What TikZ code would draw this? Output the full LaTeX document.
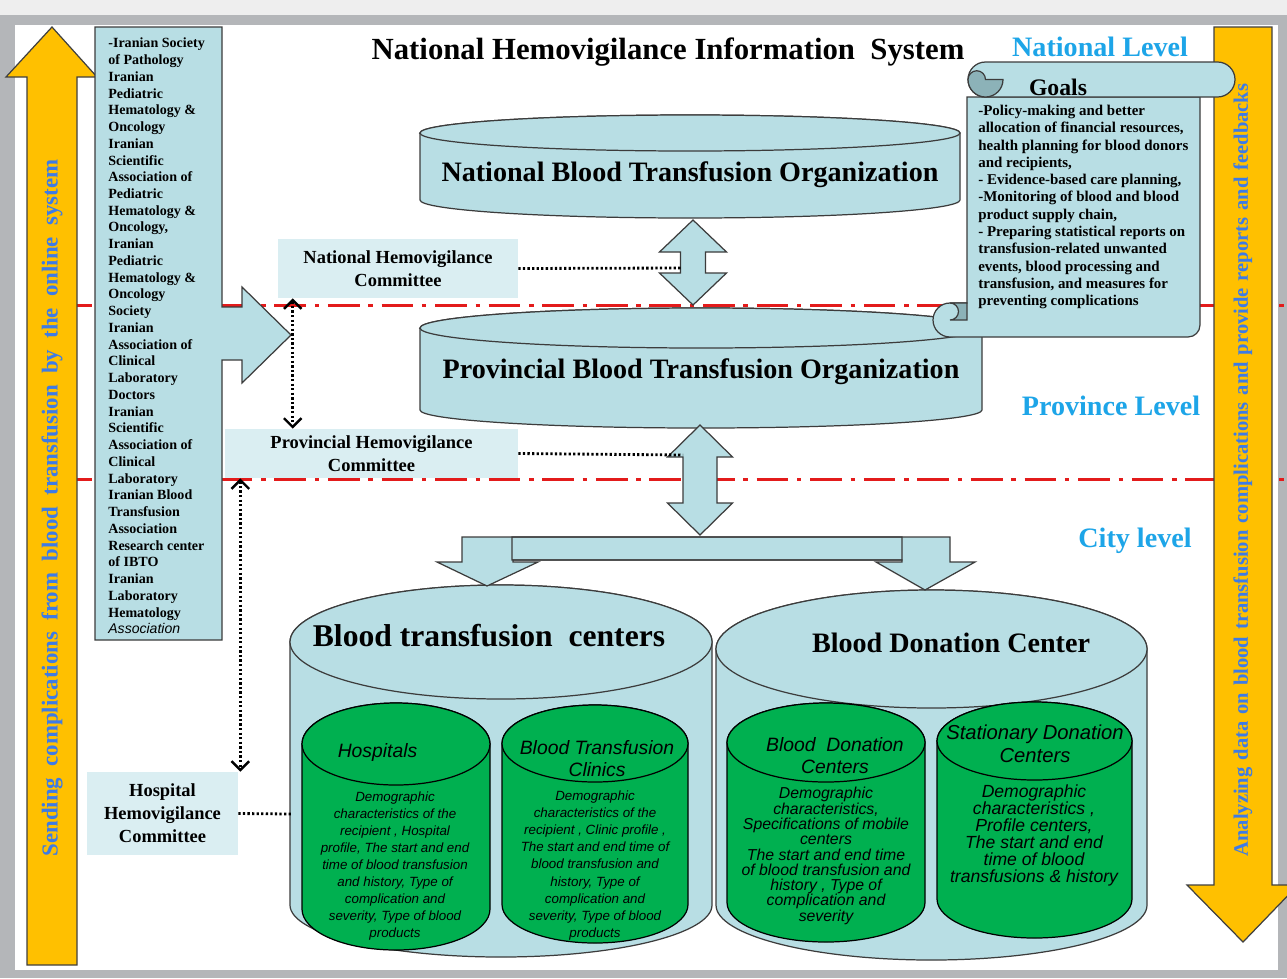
\documentclass[tikz,border=0pt]{standalone}
\usepackage{fontspec}
\setmainfont{Liberation Serif}
\newfontfamily\arialfont{Liberation Sans}
\usetikzlibrary{arrows.meta}
\definecolor{lblue}{HTML}{B8DEE4}
\definecolor{boxc}{HTML}{DAEEF2}
\definecolor{orng}{HTML}{FFC000}
\definecolor{grn}{HTML}{00B050}
\definecolor{lvl}{HTML}{1DA5E8}
\definecolor{tblue}{HTML}{3D7BE6}
\definecolor{redl}{HTML}{E31B1B}
\definecolor{curlc}{HTML}{8CB2B8}
\definecolor{edgec}{HTML}{3C3C3C}
\definecolor{framec}{HTML}{B4B6B9}
\definecolor{frametop}{HTML}{EEEEEE}
\newcommand\fsz[2]{\fontsize{#1}{#2}\selectfont}
% cylinder: #1 style, #2 xl, #3 xr, #4 top y, #5 top ry, #6 bottom y, #7 bottom ry
\newcommand\mycyl[7]{%
 \pgfmathsetmacro\cylrx{(#3-#2)/2*0.02}%
 \pgfmathsetmacro\cylcx{(#2+#3)/2}%
 \pgfmathsetmacro\cylta{#5*0.02}%
 \pgfmathsetmacro\cylba{#7*0.02}%
 \path[#1] (#2,#4) -- (#2,#6) arc[start angle=180,end angle=360,x radius=\cylrx cm,y radius=\cylba cm] -- (#3,#4) arc[start angle=0,end angle=180,x radius=\cylrx cm,y radius=\cylta cm] -- cycle;
 \path[#1] (\cylcx,#4) ellipse[x radius=\cylrx cm,y radius=\cylta cm];
}
\begin{document}
\begin{tikzpicture}[x=0.02cm,y=-0.02cm,
  shp/.style={draw=edgec,line width=0.7pt,fill=lblue},
  gshp/.style={draw=black,line width=0.7pt,fill=grn},
  oarrow/.style={draw=black!75,line width=0.7pt,fill=orng},
  curlshp/.style={draw=edgec,line width=0.7pt,fill=curlc},
  lvltxt/.style={text=lvl,font=\bfseries\fsz{16}{18}},
  combox/.style={fill=boxc,inner sep=0pt,align=center,font=\bfseries\fsz{10.5}{13}},
  cyltitle/.style={font=\bfseries\fsz{16}{18}},
  gtitle/.style={font=\arialfont\itshape\fsz{11}{12.5},align=center},
  gbody/.style={font=\arialfont\itshape\fsz{7.6}{9.7},align=center},
  dotc/.style={line width=1.6pt,dash pattern=on 1.3pt off 1.3pt},
  dotarr/.style={dotc,arrows={Straight Barb[length=5pt,width=10pt,line width=1.4pt]-Straight Barb[length=5pt,width=10pt,line width=1.4pt]}},
  redline/.style={draw=redl,line width=1.7pt,dash pattern=on 18pt off 5pt on 2.5pt off 5pt},
  vtxt/.style={rotate=90,text=tblue,inner sep=0pt}
]
% background / slide
\fill[frametop] (0,0) rectangle (1287,978);
\fill[framec] (0,15) rectangle (1287,978);
\fill[white] (15,25) rectangle (1278,970);
\useasboundingbox (0,0) rectangle (1287,978);

% committees
\node[combox,minimum width=4.8cm,minimum height=1.18cm] (natc) at (398,268.5) {National Hemovigilance\\Committee};
\node[combox,minimum width=5.86cm,minimum height=0.98cm] (provc) at (371.5,453.5) {Provincial Hemovigilance\\Committee};
\node[combox,minimum width=3.02cm,minimum height=1.66cm] (hospc) at (162.5,813.5) {Hospital\\Hemovigilance\\Committee};

% level separators
\draw[redline] (60,305) -- (1287,305);
\draw[redline] (60,479) -- (1287,479);

% orange side arrows
\path[oarrow] (27,965) -- (27,77) -- (6,77) -- (52,27) -- (97,77) -- (77,77) -- (77,965) -- cycle;
\path[oarrow] (1214,27) -- (1272,27) -- (1272,885) -- (1298,885) -- (1243,942) -- (1187,885) -- (1214,885) -- cycle;
\node[vtxt,font=\bfseries\fsz{13}{15}] (sendtxt) at (52,508) {\makebox[13.94cm][s]{Sending complications from blood transfusion by the online system}};
\node[vtxt,font=\bfseries\fsz{11.7}{14}] (anatxt) at (1243,470) {\makebox[15.46cm][s]{Analyzing data on blood transfusion complications and provide reports and feedbacks}};

% societies callout
\path[shp] (95,27) -- (222,27) -- (222,307) -- (242,307) -- (242,287) -- (291,335) -- (242,383) -- (242,360) -- (222,360) -- (222,640) -- (95,640) -- cycle;
\node[anchor=west,align=left,inner sep=0pt,font=\bfseries\fsz{8}{9.53}] (soc) at (108,336) {-Iranian Society\\of Pathology\\Iranian\\Pediatric\\Hematology \&\\Oncology\\Iranian\\Scientific\\Association of\\Pediatric\\Hematology \&\\Oncology,\\Iranian\\Pediatric\\Hematology \&\\Oncology\\Society\\Iranian\\Association of\\Clinical\\Laboratory\\Doctors\\Iranian\\Scientific\\Association of\\Clinical\\Laboratory\\Iranian Blood\\Transfusion\\Association\\Research center\\of IBTO\\Iranian\\Laboratory\\Hematology\\{\mdseries\arialfont\itshape Association}};

% title and levels
\node[font=\bfseries\fsz{17.5}{20}] (title) at (668,52) {National Hemovigilance Information~ System};
\node[lvltxt] (natlvl) at (1100,47) {National Level};
\node[lvltxt] (provlvl) at (1111,406) {Province Level};
\node[lvltxt] (citylvl) at (1135,541) {City level};

% organisations
\mycyl{shp}{420}{960}{133}{18}{200}{18}
\node[cyltitle] (nbto) at (690,175) {National Blood Transfusion Organization};
\mycyl{shp}{420}{982}{328}{20}{410}{18}
\node[cyltitle] (pbto) at (701,372) {Provincial Blood Transfusion Organization};

% goals scroll
\path[shp] (967,97) -- (967,303) -- (950,303) arc[start angle=90,end angle=270,radius=0.34cm] -- (1188,337) arc[start angle=270,end angle=360,radius=0.24cm] -- (1200,97) -- cycle;
\path[shp] (985.5,62) -- (1217.5,62) arc[start angle=90,end angle=-90,radius=0.35cm] -- (985.5,97) arc[start angle=270,end angle=90,radius=0.35cm] -- cycle;
\path[curlshp] (1003,79.5) arc[start angle=0,end angle=-180,radius=0.35cm] arc[start angle=180,end angle=0,radius=0.175cm] -- cycle;
\path[curlshp] (967,320) -- (967,303) -- (950,303) arc[start angle=90,end angle=-90,radius=0.17cm] -- cycle;
\node[font=\bfseries\fsz{13.5}{15}] (goals) at (1058,87) {Goals};
\node[anchor=west,align=left,inner sep=0pt,font=\bfseries\fsz{8.5}{9.84}] (goaltxt) at (978,207) {-Policy-making and better\\allocation of financial resources,\\health planning for blood donors\\and recipients,\\- Evidence-based care planning,\\-Monitoring of blood and blood\\product supply chain,\\- Preparing statistical reports on\\transfusion-related unwanted\\events, blood processing and\\transfusion, and measures for\\preventing complications};

% double arrows
\path[shp] (693,220) -- (726.5,252) -- (705.5,252) -- (705.5,273) -- (726.5,273) -- (693,305) -- (659.5,273) -- (680.5,273) -- (680.5,252) -- (659.5,252) -- cycle;
\coordinate (d1w) at (680.5,268);
\path[shp] (700,425) -- (732.5,457) -- (717,457) -- (717,503) -- (732.5,503) -- (700,535) -- (667.5,503) -- (683,503) -- (683,457) -- (667.5,457) -- cycle;
\coordinate (d2w) at (683,455);

% centres
\mycyl{shp}{290}{712}{642}{57}{905}{52}
\mycyl{shp}{716}{1147}{649}{59}{905}{55}
\node[font=\bfseries\fsz{18}{20}] (btc) at (489,636) {Blood transfusion~ centers};
\node[cyltitle] (bdc) at (951,643) {Blood Donation Center};
\coordinate (btw) at (291,814);

% branch arrows
\path[fill=lblue] (462,537) -- (902,537) -- (902,560) -- (513,560) -- (513,562) -- (538,562) -- (487,586) -- (437,562) -- (462,562) -- cycle;
\path[fill=lblue] (512,537) -- (950,537) -- (950,562) -- (975,562) -- (925,590) -- (876,562) -- (902,562) -- (902,560) -- (512,560) -- cycle;
\path[draw=edgec,line width=0.7pt] (462,537) -- (902,537) -- (902,560) -- (513,560) -- (513,562) -- (538,562) -- (487,586) -- (437,562) -- (462,562) -- cycle;
\path[draw=edgec,line width=0.7pt] (512,537) -- (950,537) -- (950,562) -- (975,562) -- (925,590) -- (876,562) -- (902,562) -- (902,560) -- (512,560) -- cycle;

% green sub-centres
\mycyl{gshp}{302}{490}{744}{41}{909}{41}
\mycyl{gshp}{502}{688}{743.5}{38.5}{904.5}{38.5}
\mycyl{gshp}{727}{925}{742.5}{39.5}{902.5}{39.5}
\mycyl{gshp}{937}{1132}{741}{39}{899}{39}
\node[gtitle] (hosp) at (377.5,752) {Hospitals};
\node[gtitle] (clin) at (597,759) {Blood Transfusion\\Clinics};
\node[gtitle] (bdcs) at (835,756) {Blood~ Donation\\Centers};
\node[gtitle,font=\arialfont\itshape\fsz{11.5}{13}] (sdc) at (1035,743.5) {Stationary Donation\\Centers};
\node[gbody] (hospb) at (395,866) {Demographic\\characteristics of the\\recipient , Hospital\\profile, The start and end\\time of blood transfusion\\and history, Type of\\complication and\\severity, Type of blood\\products};
\node[gbody] (clinb) at (595,865.5) {Demographic\\characteristics of the\\recipient , Clinic profile ,\\The start and end time of\\blood transfusion and\\history, Type of\\complication and\\severity, Type of blood\\products};
\node[gbody,font=\arialfont\itshape\fsz{9}{8.7}] (bdcsb) at (826,856) {Demographic\\characteristics,\\Specifications of mobile\\centers\\The start and end time\\of blood transfusion and\\history , Type of\\complication and\\severity};
\node[gbody,font=\arialfont\itshape\fsz{10}{9.7}] (sdcb) at (1034,835.5) {Demographic\\characteristics ,\\Profile centers,\\The start and end\\time of blood\\transfusions \& history};

% dotted connectors
\draw[dotc] (natc.east) -- (d1w);
\draw[dotc] (provc.east) -- (d2w);
\draw[dotc] (hospc.east) -- (btw);
\draw[dotarr] ([xshift=0.3cm]natc.south west) -- ([xshift=0.3cm]natc.south west |- provc.north);
\draw[dotarr] ([xshift=0.04cm]hospc.north east |- provc.south) -- ([xshift=0.04cm]hospc.north east);
\end{tikzpicture}
\end{document}
